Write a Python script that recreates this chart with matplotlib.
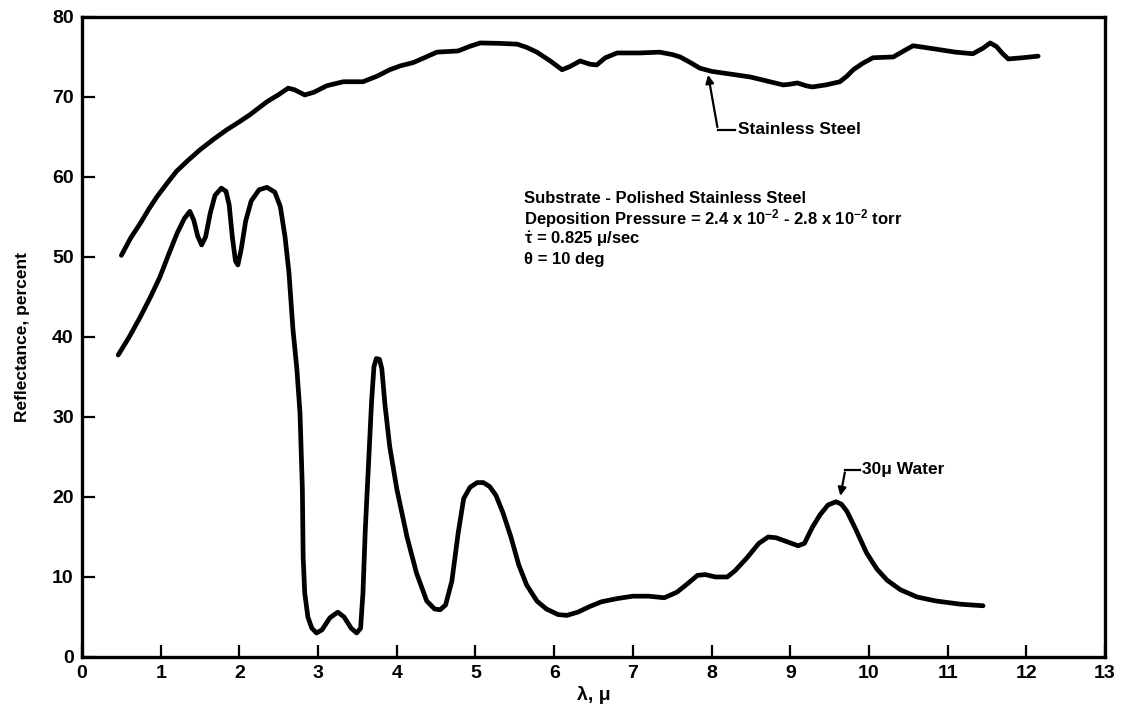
import matplotlib
matplotlib.use("Agg")
import matplotlib.pyplot as plt

# narrow bold face looks closest to the old typewritten labels
plt.rcParams["font.family"] = ["Liberation Sans Narrow", "Liberation Sans", "DejaVu Sans"]
plt.rcParams["font.stretch"] = "condensed"
plt.rcParams["font.weight"] = "bold"
plt.rcParams["mathtext.fontset"] = "custom"
plt.rcParams["mathtext.rm"] = "Liberation Sans:bold"
plt.rcParams["mathtext.it"] = "Liberation Sans:bold"
plt.rcParams["mathtext.default"] = "rm"

# stainless steel substrate
steel_wl = [0.50, 0.62, 0.74, 0.85, 0.95, 1.08, 1.20, 1.35, 1.50, 1.67, 1.84, 2.00,
            2.13, 2.35, 2.50, 2.62, 2.70, 2.83, 2.95, 3.11, 3.32, 3.57, 3.75, 3.91,
            4.05, 4.21, 4.35, 4.51, 4.78, 4.92, 5.06, 5.30, 5.53, 5.65, 5.78, 5.95,
            6.10, 6.20, 6.33, 6.45, 6.54, 6.65, 6.80, 7.09, 7.34, 7.50, 7.60, 7.73,
            7.85, 8.00, 8.14, 8.49, 8.70, 8.91, 9.00, 9.09, 9.20, 9.28, 9.45, 9.63,
            9.72, 9.80, 9.92, 10.05, 10.31, 10.45, 10.56, 10.70, 10.90, 11.10, 11.32,
            11.45, 11.54, 11.62, 11.70, 11.77, 11.95, 12.15]
steel_r = [50.2, 52.4, 54.2, 56.0, 57.5, 59.2, 60.7, 62.1, 63.4, 64.7, 65.9, 66.9,
           67.75, 69.4, 70.3, 71.1, 70.9, 70.25, 70.6, 71.4, 71.9, 71.9, 72.6, 73.4,
           73.9, 74.3, 74.9, 75.6, 75.75, 76.3, 76.75, 76.7, 76.6, 76.2, 75.6, 74.5,
           73.4, 73.8, 74.5, 74.1, 74.0, 74.9, 75.5, 75.5, 75.6, 75.3, 75.0, 74.3,
           73.6, 73.2, 73.0, 72.5, 72.0, 71.5, 71.6, 71.75, 71.4, 71.25, 71.5, 71.9,
           72.6, 73.4, 74.2, 74.9, 75.0, 75.8, 76.4, 76.2, 75.9, 75.6, 75.4,
           76.1, 76.75, 76.3, 75.4, 74.75, 74.9, 75.1]

# 30 micron water film on the substrate
water_wl = [0.46, 0.60, 0.74, 0.87, 0.99, 1.10, 1.21, 1.30, 1.37, 1.42, 1.47, 1.52,
            1.57, 1.63, 1.69, 1.77, 1.83, 1.87, 1.91, 1.95, 1.98, 2.02, 2.08, 2.15,
            2.25, 2.35, 2.45, 2.52, 2.58, 2.63, 2.68, 2.73, 2.77, 2.80, 2.81, 2.83,
            2.87, 2.92, 2.98, 3.05, 3.15, 3.25, 3.33, 3.42, 3.49, 3.54, 3.57, 3.60,
            3.64, 3.68, 3.71, 3.74, 3.78, 3.81, 3.85, 3.91, 4.00, 4.13, 4.25, 4.38,
            4.48, 4.55, 4.62, 4.70, 4.78, 4.85, 4.93, 5.02, 5.10, 5.18, 5.26, 5.35,
            5.45, 5.55, 5.65, 5.78, 5.90, 6.05, 6.16, 6.30, 6.45, 6.60, 6.80, 7.00,
            7.20, 7.40, 7.56, 7.70, 7.82, 7.92, 8.05, 8.20, 8.30, 8.45, 8.60, 8.72,
            8.82, 8.96, 9.10, 9.18, 9.28, 9.38, 9.48, 9.58, 9.65, 9.72, 9.82, 9.97,
            10.10, 10.23, 10.40, 10.61, 10.85, 11.16, 11.45]
water_r = [37.75, 40.0, 42.5, 45.0, 47.5, 50.3, 53.0, 54.8, 55.7, 54.6, 52.6, 51.5,
           52.5, 55.5, 57.7, 58.6, 58.2, 56.5, 52.5, 49.5, 49.0, 50.8, 54.5, 57.0,
           58.4, 58.7, 58.1, 56.3, 52.5, 48.0, 41.0, 36.0, 30.5, 21.0, 12.5, 8.0,
           5.0, 3.6, 3.0, 3.4, 4.9, 5.6, 5.0, 3.6, 3.0, 3.6, 8.0, 16.0,
           24.0, 32.0, 36.3, 37.3, 37.2, 36.0, 31.5, 26.3, 21.0, 15.0, 10.5, 7.0,
           6.0, 5.9, 6.5, 9.5, 15.5, 19.8, 21.2, 21.8, 21.8, 21.3, 20.2, 18.0,
           15.0, 11.5, 9.0, 7.0, 6.0, 5.3, 5.2, 5.6, 6.3, 6.9, 7.3, 7.6,
           7.6, 7.4, 8.1, 9.2, 10.2, 10.3, 10.0, 10.0, 10.8, 12.4, 14.2, 15.0,
           14.9, 14.4, 13.9, 14.2, 16.2, 17.8, 19.0, 19.4, 19.1, 18.2, 16.2, 13.0,
           11.0, 9.6, 8.4, 7.5, 7.0, 6.6, 6.4]

x_ticks = list(range(0, 14))
y_ticks = list(range(0, 81, 10))

notes = [
    "Substrate - Polished Stainless Steel",
    r"Deposition Pressure = 2.4 x 10$^{-2}$ - 2.8 x 10$^{-2}$ torr",
    r"$\dot{\tau}$ = 0.825 μ/sec",
    "θ = 10 deg",
]

fig = plt.figure(figsize=(11.22, 7.21), dpi=100)
ax = fig.add_axes([0.0731, 0.0888, 0.9118, 0.8877])

lw = 3.4
for wl, r in [(steel_wl, steel_r), (water_wl, water_r)]:
    ax.plot(wl, r, color="black", lw=lw, solid_capstyle="round", solid_joinstyle="round")

ax.set_xlim(0, 13)
ax.set_ylim(0, 80)
ax.set_xticks(x_ticks)
ax.set_yticks(y_ticks)
ax.tick_params(direction="in", length=9, width=1.6, labelsize=14, pad=6)
for s in ax.spines.values():
    s.set_linewidth(2.4)
ax.set_xlabel("λ, μ", fontsize=14, fontweight="bold", labelpad=3)
ax.set_ylabel("Reflectance, percent", fontsize=12.5, fontweight="bold", labelpad=16)

# leader lines with arrow heads
arrow = dict(arrowstyle="-|>", color="black", lw=1.6, mutation_scale=12)
ax.annotate("", xy=(7.95, 73.1), xytext=(8.08, 65.9), arrowprops=arrow)
ax.plot([8.08, 8.30], [65.9, 65.9], color="black", lw=1.6)
ax.text(8.34, 65.9, "Stainless Steel", fontsize=12.5, fontweight="bold", va="center", ha="left")

ax.annotate("", xy=(9.63, 19.8), xytext=(9.70, 23.4), arrowprops=arrow)
ax.plot([9.70, 9.88], [23.4, 23.4], color="black", lw=1.6)
ax.text(9.91, 23.4, "30μ Water", fontsize=12.5, fontweight="bold", va="center", ha="left")

for i, line in enumerate(notes):
    ax.text(5.62, 57.3 - i * 2.55, line, fontsize=12, fontweight="bold", va="center", ha="left")

fig.savefig("out.png", dpi=100)
